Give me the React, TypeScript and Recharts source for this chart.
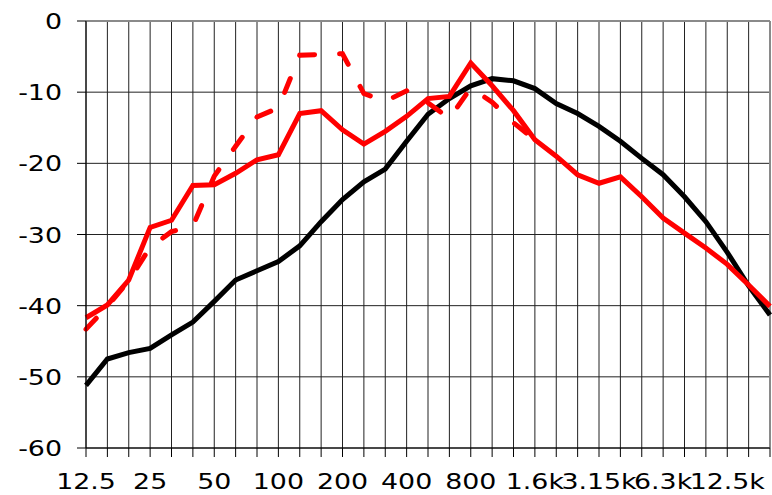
import React from "react";
import { LineChart, Line, XAxis, YAxis, CartesianGrid, ReferenceLine } from "recharts";

// 1/3-octave bands, 12.5 Hz .. 20 kHz
const bands = [
  "12.5", "16", "20", "25", "31.5", "40", "50", "63", "80", "100", "125",
  "160", "200", "250", "315", "400", "500", "630", "800", "1k", "1.25k",
  "1.6k", "2k", "2.5k", "3.15k", "4k", "5k", "6.3k", "8k", "10k", "12.5k",
  "16k", "20k",
];

const blackLevels = [
  -51.2, -47.5, -46.6, -46.0, -44.1, -42.3, -39.4, -36.4, -35.1, -33.8, -31.6,
  -28.2, -25.1, -22.6, -20.8, -16.9, -13.1, -10.9, -9.1, -8.1, -8.4,
  -9.5, -11.6, -13.0, -14.8, -16.9, -19.3, -21.6, -24.7, -28.2, -32.5,
  -37.2, -41.3,
];

const redLevels = [
  -41.7, -39.9, -36.4, -29.0, -28.0, -23.1, -23.0, -21.4, -19.5, -18.8, -13.0,
  -12.6, -15.3, -17.3, -15.5, -13.4, -10.9, -10.6, -5.9, -9.1, -12.6,
  -16.7, -19.0, -21.6, -22.8, -21.9, -24.7, -27.7, -29.8, -31.9, -34.2,
  -37.1, -40.1,
];

const dashedLevels = [
  -43.3, -40.1, -36.5, -31.8, -29.6, -28.8, -21.8, -17.6, -13.5, -12.2, -4.8,
  -4.7, -4.6, -10.2, -11.3, -9.8, -11.5, -13.7, -9.4, -11.4, -14.3,
  -16.7,
];

const yTicks = [0, -10, -20, -30, -40, -50, -60];

const chartData = bands.map((band, i) => ({
  i,
  band,
  black: blackLevels[i],
  red: redLevels[i],
  dashed: i < dashedLevels.length ? dashedLevels[i] : null,
}));

const FONT = "Verdana, 'DejaVu Sans', sans-serif";

function XTick({ x, y, payload }: any) {
  const idx = payload.value;
  if (idx % 3 !== 0) return null;
  return (
    <text
      transform={`translate(${x},${y + 32}) scale(1.22,1)`}
      textAnchor="middle"
      fontSize={22}
      fontFamily={FONT}
      fill="#000"
    >
      {bands[idx]}
    </text>
  );
}

function YTick({ x, y, payload }: any) {
  return (
    <text
      transform={`translate(${x - 15},${y + 8}) scale(1.22,1)`}
      textAnchor="end"
      fontSize={22}
      fontFamily={FONT}
      fill="#000"
    >
      {payload.value}
    </text>
  );
}

export default function App() {
  return (
    <div style={{ position: "absolute", left: 0, top: 0, background: "#fff" }}>
      <LineChart
        width={772}
        height={495}
        data={chartData}
        margin={{ top: 21, right: 2, bottom: 0, left: 0 }}
      >
        <CartesianGrid stroke="#222" strokeWidth={1} />
        <XAxis
          dataKey="i"
          type="number"
          domain={[0, bands.length - 1]}
          ticks={bands.map((_, i) => i)}
          interval={0}
          height={47}
          tickSize={9}
          tickMargin={0}
          axisLine={{ stroke: "#000" }}
          tickLine={{ stroke: "#000" }}
          tick={<XTick />}
        />
        <YAxis
          type="number"
          domain={[-60, 0]}
          ticks={yTicks}
          interval={0}
          width={86}
          tickSize={9}
          tickMargin={0}
          axisLine={{ stroke: "#000" }}
          tickLine={{ stroke: "#000" }}
          tick={<YTick />}
        />
        <ReferenceLine y={0} stroke="#8a8a8a" strokeWidth={2} />
        <ReferenceLine x={bands.length - 1} stroke="#8a8a8a" strokeWidth={2} />
        <Line
          dataKey="black"
          stroke="#000"
          strokeWidth={5}
          dot={false}
          activeDot={false}
          isAnimationActive={false}
        />
        <Line
          dataKey="dashed"
          stroke="#ff0000"
          strokeWidth={5}
          strokeDasharray="15 25"
          strokeLinecap="round"
          dot={false}
          activeDot={false}
          isAnimationActive={false}
        />
        <Line
          dataKey="red"
          stroke="#ff0000"
          strokeWidth={5}
          dot={false}
          activeDot={false}
          isAnimationActive={false}
        />
      </LineChart>
    </div>
  );
}
